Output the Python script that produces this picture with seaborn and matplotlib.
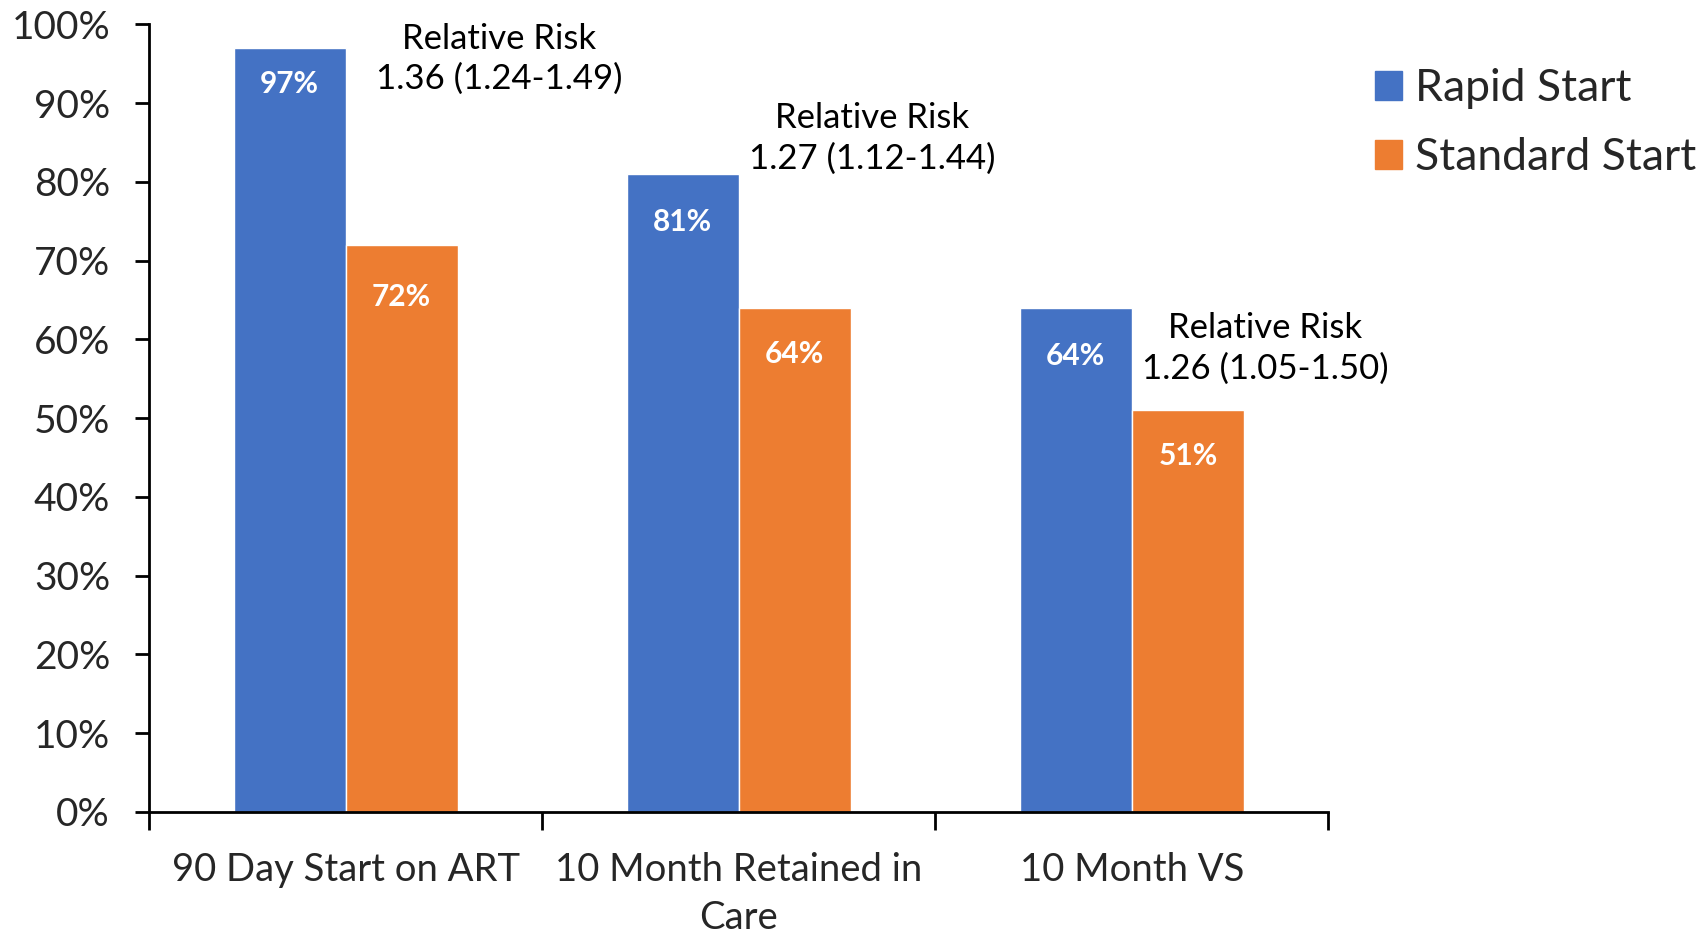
import matplotlib
matplotlib.use("Agg")
import matplotlib.pyplot as plt
import matplotlib.patches as mpatches
import pandas as pd
import seaborn as sns

# Outcome measures and the share of patients reaching each one
categories = ["90 Day Start on ART", "10 Month Retained in\nCare", "10 Month VS"]
rapid_start = [97, 81, 64]
standard_start = [72, 64, 51]
groups = ["Rapid Start", "Standard Start"]
colors = ["#4472C4", "#ED7D31"]
y_ticks = [0, 10, 20, 30, 40, 50, 60, 70, 80, 90, 100]

# Relative-risk annotations for each measure
rr_text = [
    "Relative Risk\n1.36 (1.24-1.49)",
    "Relative Risk\n1.27 (1.12-1.44)",
    "Relative Risk\n1.26 (1.05-1.50)",
]
rr_pos = [(0.39, 95.6), (1.34, 85.5), (2.34, 58.85)]

# How far (in points) each value label sits below its bar top, in bar order
label_drop = [26, 34.5, 34.5, 37.5, 33, 33]

df = pd.DataFrame({
    "measure": categories * 2,
    "group": [groups[0]] * 3 + [groups[1]] * 3,
    "value": rapid_start + standard_start,
})

sns.set_theme(style="white")
plt.rcParams["font.family"] = ["Lato", "DejaVu Sans"]

fig = plt.figure(figsize=(17.03, 9.36), dpi=100)
ax = fig.add_axes([0.0875, 0.1325, 0.6925, 0.8415])

sns.barplot(data=df, x="measure", y="value", hue="group", order=categories,
            hue_order=groups, palette=colors, saturation=1, width=0.57,
            gap=0, ax=ax, legend=False)

ax.set_xlim(-0.5, 2.5)
ax.set_ylim(0, 100)
ax.set_yticks(y_ticks)
ax.set_yticklabels([f"{t}%" for t in y_ticks])
ax.set_xlabel("")
ax.set_ylabel("")

for s in ["top", "right"]:
    ax.spines[s].set_visible(False)
for s in ["left", "bottom"]:
    ax.spines[s].set_color("black")
    ax.spines[s].set_linewidth(2)

ax.tick_params(axis="y", direction="out", length=10, width=2, color="black",
               labelsize=28, pad=18, left=True)
ax.tick_params(axis="x", which="major", length=0, labelsize=27.5, pad=29)
ax.set_xticks([-0.5, 0.5, 1.5, 2.5], minor=True)
ax.tick_params(axis="x", which="minor", direction="out", length=13, width=2,
               color="black", bottom=True)
for lbl in ax.get_xticklabels():
    lbl.set_linespacing(1.4)

# Value labels inside the top of each bar
bars = [p for p in ax.patches if p.get_height() > 0]
for p, drop in zip(bars, label_drop):
    h = p.get_height()
    ax.annotate(f"{h:.0f}%", (p.get_x() + p.get_width() / 2, h),
                xytext=(0, -drop), textcoords="offset points",
                ha="center", va="center", color="white", fontsize=21.5,
                fontweight="bold")

for txt, (x, y) in zip(rr_text, rr_pos):
    ax.text(x, y, txt, ha="center", va="center", fontsize=25,
            linespacing=1.3, color="black")

handles = [mpatches.Patch(color=c, label=g) for c, g in zip(colors, groups)]
fig.legend(handles=handles, loc="upper left", bbox_to_anchor=(0.7945, 0.951),
           frameon=False, fontsize=32, handlelength=0.6, handleheight=0.6,
           handletextpad=0.29, labelspacing=0.63, borderpad=0)

fig.savefig("out.png", dpi=100)
